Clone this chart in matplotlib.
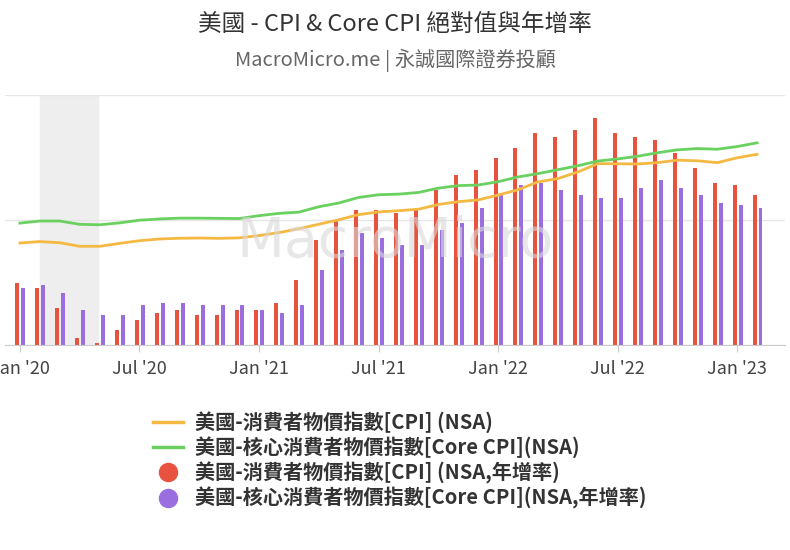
import matplotlib
matplotlib.use("Agg")
import matplotlib.pyplot as plt
from matplotlib.lines import Line2D
import numpy as np

plt.rcParams['font.family'] = ['Noto Sans CJK TC', 'DejaVu Sans']

tick_labels = ["Jan '20", "Jul '20", "Jan '21", "Jul '21", "Jan '22", "Jul '22", "Jan '23"]
cpi_index = [257.97, 258.68, 258.12, 256.39, 256.39, 257.80, 259.10, 259.92, 260.28, 260.39, 260.23, 260.47,
             261.58, 263.01, 264.88, 267.05, 269.20, 271.70, 273.00, 273.57, 274.31, 276.59, 277.95, 278.80,
             281.15, 283.72, 287.50, 289.11, 292.30, 296.31, 296.28, 296.17, 296.81, 298.01, 297.71, 296.80,
             299.17, 300.84]
core_index = [267.6, 268.6, 268.6, 267.0, 266.8, 267.7, 269.0, 269.6, 270.0, 270.0, 269.9, 269.8,
              271.2, 272.3, 272.9, 275.5, 277.3, 280.0, 281.3, 281.6, 282.4, 284.5, 285.7, 286.0,
              287.6, 289.9, 291.5, 293.4, 295.3, 297.6, 298.6, 299.9, 301.6, 303.0, 303.6, 303.3,
              304.6, 306.4]
cpi_yoy = [2.5, 2.3, 1.5, 0.3, 0.1, 0.6, 1.0, 1.3, 1.4, 1.2, 1.2, 1.4,
           1.4, 1.7, 2.6, 4.2, 5.0, 5.4, 5.4, 5.3, 5.4, 6.2, 6.8, 7.0,
           7.5, 7.9, 8.5, 8.3, 8.6, 9.1, 8.5, 8.3, 8.2, 7.7, 7.1, 6.5,
           6.4, 6.0]
core_yoy = [2.3, 2.4, 2.1, 1.4, 1.2, 1.2, 1.6, 1.7, 1.7, 1.6, 1.6, 1.6,
            1.4, 1.3, 1.6, 3.0, 3.8, 4.5, 4.3, 4.0, 4.0, 4.6, 4.9, 5.5,
            6.0, 6.4, 6.5, 6.2, 6.0, 5.9, 5.9, 6.3, 6.6, 6.3, 6.0, 5.7,
            5.6, 5.5]
recession = (1, 3.9)

x = np.arange(len(cpi_yoy))
fig = plt.figure(figsize=(7.9, 5.5), dpi=100)
ax = fig.add_axes([5/790, 205/550, 780/790, 250/550])
ax.set_xlim(-0.75, 38.4)
ax.set_ylim(0, 10)
ax.axvspan(*recession, color='#eeeeee', zorder=0)
ax.bar(x - 0.13, cpi_yoy, width=0.2, color='#e8533f', zorder=2)
ax.bar(x + 0.17, core_yoy, width=0.2, color='#9b6ee0', zorder=2)
ax.set_yticks([0, 5, 10])
ax.yaxis.grid(True, color='#e6e6e6', lw=1)
ax.set_axisbelow(True)
ax.tick_params(axis='y', which='both', length=0, left=False, labelleft=False)
for s in ['top', 'right', 'left']:
    ax.spines[s].set_visible(False)
ax.spines['bottom'].set_color('#cccccc')
ax.set_xticks(np.arange(0, 37, 6))
ax.set_xticklabels(tick_labels, fontsize=13, color='#444444')
ax.tick_params(axis='x', length=5, color='#cccccc', pad=6)

ax2 = ax.twinx()
ax2.set_ylim(208.7, 329.5)
ax2.plot(x, cpi_index, color='#f4b942', lw=2, zorder=3)
ax2.plot(x, core_index, color='#6ad160', lw=2, zorder=3)
ax2.set_yticks([])
for s in ax2.spines.values():
    s.set_visible(False)

fig.text(0.5, 0.56, 'MacroMicro', fontsize=40, color='#d8d8d8', alpha=0.6,
         ha='center', va='center', family='DejaVu Sans', zorder=0)

fig.text(0.5, 1 - 25/550, '美國 - CPI & Core CPI 絕對值與年增率', ha='center', va='center', fontsize=17, color='#333333')
fig.text(0.5, 1 - 60/550, 'MacroMicro.me | 永誠國際證券投顧', ha='center', va='center', fontsize=14.5, color='#666666')

handles = [Line2D([], [], color='#f4b942', lw=2.5),
           Line2D([], [], color='#6ad160', lw=2.5),
           Line2D([], [], color='#e8533f', marker='o', ls='', ms=13),
           Line2D([], [], color='#9b6ee0', marker='o', ls='', ms=13)]
labels = ['美國-消費者物價指數[CPI] (NSA)', '美國-核心消費者物價指數[Core CPI](NSA)',
          '美國-消費者物價指數[CPI] (NSA,年增率)', '美國-核心消費者物價指數[Core CPI](NSA,年增率)']
fig.legend(handles, labels, loc='upper left', bbox_to_anchor=(135/790, 1 - 393/550), frameon=False,
           prop={'size': 14.5, 'weight': 'bold'}, labelcolor='#333333', handlelength=1.5,
           labelspacing=0.17, handletextpad=0.6)
fig.savefig('out.png', dpi=100)
